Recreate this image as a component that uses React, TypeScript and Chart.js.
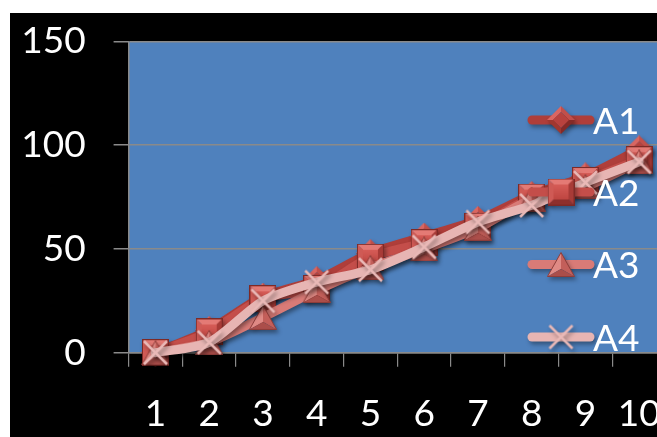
import { useEffect, useRef } from "react";
import { Chart, registerables } from "chart.js";

Chart.register(...registerables);

// ---- data ----
const categories = ["1", "2", "3", "4", "5", "6", "7", "8", "9", "10"];
const seriesNames = ["A1", "A2", "A3", "A4"];
const a1Values = [0, 11, 27, 35, 48, 56, 64, 76, 85, 98];
const a2Values = [0, 10, 26, 31, 46, 53, 61, 75, 83, 93];
const a3Values = [0, 5, 17, 30, 41, 50, 60, 74, 80, 92];
const a4Values = [0, 5, 25, 34, 40, 51, 63, 71, 82, 92];
const yMin = 0;
const yMax = 150;
const yStep = 50;

const FONT = "Lato";

function poly(ctx: CanvasRenderingContext2D, pts: number[][], fill: any) {
  ctx.beginPath();
  ctx.moveTo(pts[0][0], pts[0][1]);
  for (let i = 1; i < pts.length; i++) ctx.lineTo(pts[i][0], pts[i][1]);
  ctx.closePath();
  ctx.fillStyle = fill;
  ctx.fill();
}

function makeSquare(): HTMLCanvasElement {
  const s = 27;
  const b = 6;
  const c = document.createElement("canvas");
  c.width = s;
  c.height = s;
  const ctx = c.getContext("2d")!;
  poly(ctx, [[0, 0], [s, 0], [s - b, b], [b, b]], "#E47A75");
  poly(ctx, [[0, 0], [b, b], [b, s - b], [0, s]], "#CF5A55");
  poly(ctx, [[s, 0], [s, s], [s - b, s - b], [s - b, b]], "#A83B37");
  poly(ctx, [[0, s], [b, s - b], [s - b, s - b], [s, s]], "#8E2F2C");
  const g = ctx.createLinearGradient(0, b, 0, s - b);
  g.addColorStop(0, "#D65C57");
  g.addColorStop(1, "#BE4641");
  poly(ctx, [[b, b], [s - b, b], [s - b, s - b], [b, s - b]], g);
  ctx.strokeStyle = "#7E2A27";
  ctx.lineWidth = 1;
  ctx.strokeRect(0.5, 0.5, s - 1, s - 1);
  return c;
}

function makeDiamond(): HTMLCanvasElement {
  const s = 28;
  const h = s / 2;
  const b = 6;
  const c = document.createElement("canvas");
  c.width = s;
  c.height = s;
  const ctx = c.getContext("2d")!;
  const T = [h, 0], R = [s, h], B = [h, s], L = [0, h];
  const t = [h, b], r = [s - b, h], bb = [h, s - b], l = [b, h];
  poly(ctx, [L, T, t, l], "#DA6661");
  poly(ctx, [T, R, r, t], "#C24F4A");
  poly(ctx, [R, B, bb, r], "#862A27");
  poly(ctx, [B, L, l, bb], "#A0372F");
  poly(ctx, [t, r, bb, l], "#B8423E");
  return c;
}

function makeTriangle(): HTMLCanvasElement {
  const w = 28;
  const hgt = 25;
  const c = document.createElement("canvas");
  c.width = w;
  c.height = hgt;
  const ctx = c.getContext("2d")!;
  const A = [w / 2, 0.5], BL = [0.5, hgt - 0.5], BR = [w - 0.5, hgt - 0.5], C = [w / 2, hgt * 0.68];
  poly(ctx, [A, C, BL], "#E08A85");
  poly(ctx, [A, BR, C], "#C35F5A");
  poly(ctx, [BL, C, BR], "#AB4E4A");
  ctx.beginPath();
  ctx.moveTo(A[0], A[1]);
  ctx.lineTo(BR[0], BR[1]);
  ctx.lineTo(BL[0], BL[1]);
  ctx.closePath();
  ctx.strokeStyle = "#8E3D3A";
  ctx.lineWidth = 1;
  ctx.stroke();
  return c;
}

function makeCross(): HTMLCanvasElement {
  const s = 27;
  const c = document.createElement("canvas");
  c.width = s;
  c.height = s;
  const ctx = c.getContext("2d")!;
  ctx.strokeStyle = "#E9B9B7";
  ctx.lineWidth = 2.5;
  ctx.beginPath();
  ctx.moveTo(2, 2);
  ctx.lineTo(s - 2, s - 2);
  ctx.moveTo(s - 2, 2);
  ctx.lineTo(2, s - 2);
  ctx.stroke();
  return c;
}

const CANVAS_W = 679;
const CANVAS_H = 424;

export default function App() {
  const ref = useRef<HTMLCanvasElement>(null);

  useEffect(() => {
    if (!ref.current) return;
    const markers = [makeDiamond(), makeSquare(), makeTriangle(), makeCross()];
    const lineColors = ["#AF3E3A", "#C44E4A", "#D97B77", "#E7B5B3"];
    const values = [a1Values, a2Values, a3Values, a4Values];

    const bgPlugin = {
      id: "bg",
      beforeDraw(chart: any) {
        const { ctx, chartArea: a, width, height } = chart;
        ctx.save();
        ctx.fillStyle = "#000000";
        ctx.fillRect(0, 0, width, height);
        ctx.fillStyle = "#4F81BD";
        ctx.fillRect(a.left, a.top, a.right - a.left, a.bottom - a.top);
        ctx.restore();
      },
    };

    const shadowPlugin = {
      id: "shadow",
      beforeDatasetsDraw(chart: any) {
        const ctx = chart.ctx;
        ctx.save();
        ctx.shadowColor = "rgba(0,0,0,0.4)";
        ctx.shadowBlur = 4;
        ctx.shadowOffsetX = 2;
        ctx.shadowOffsetY = 3;
      },
      afterDatasetsDraw(chart: any) {
        chart.ctx.restore();
      },
    };

    const legendPlugin = {
      id: "customLegend",
      afterDraw(chart: any) {
        const ctx = chart.ctx;
        const rows = [107, 179, 251.5, 324];
        const x0 = 522;
        const x1 = 580;
        const mx = 551;
        const tx = 583;
        chart.data.datasets.forEach((ds: any, i: number) => {
          const y = rows[i];
          ctx.save();
          ctx.shadowColor = "rgba(0,0,0,0.35)";
          ctx.shadowBlur = 4;
          ctx.shadowOffsetX = 2;
          ctx.shadowOffsetY = 3;
          ctx.strokeStyle = ds.borderColor;
          ctx.lineWidth = 9;
          ctx.lineCap = "round";
          ctx.beginPath();
          ctx.moveTo(x0, y);
          ctx.lineTo(x1, y);
          ctx.stroke();
          const m = ds.pointStyle as HTMLCanvasElement;
          ctx.drawImage(m, mx - m.width / 2, y - m.height / 2);
          ctx.restore();
          ctx.save();
          ctx.fillStyle = "#FFFFFF";
          ctx.font = `37px ${FONT}`;
          ctx.textBaseline = "middle";
          ctx.textAlign = "left";
          ctx.fillText(ds.label, tx, y + 2);
          ctx.restore();
        });
      },
    };

    const chart = new Chart(ref.current, {
      type: "line",
      data: {
        labels: categories,
        datasets: seriesNames.map((name, i) => ({
          label: name,
          data: values[i],
          borderColor: lineColors[i],
          borderWidth: 9,
          borderCapStyle: "round",
          borderJoinStyle: "round",
          tension: 0.25,
          pointStyle: markers[i] as any,
          pointRadius: 14,
          pointHoverRadius: 14,
          fill: false,
          clip: false as any,
          order: 3 - i,
        })),
      },
      options: {
        responsive: false,
        maintainAspectRatio: false,
        animation: false,
        events: [],
        layout: { padding: { top: 28.5, left: 0, right: 0, bottom: 0 } },
        plugins: {
          legend: { display: false },
          tooltip: { enabled: false },
          title: { display: false },
        },
        scales: {
          x: {
            type: "category",
            offset: true,
            grid: {
              offset: true,
              drawOnChartArea: false,
              drawTicks: true,
              tickLength: 14,
              color: "#8A8A8A",
              lineWidth: 1.2,
            },
            border: { display: true, color: "#8A8A8A", width: 1.5 },
            ticks: {
              color: "#FFFFFF",
              font: { family: FONT, size: 37 },
              padding: 25,
              maxRotation: 0,
              autoSkip: false,
            },
            afterFit: (s: any) => {
              s.height = 84.3;
              s.paddingLeft = 0;
              s.paddingRight = 0;
              s.paddingTop = 0;
              s.paddingBottom = 0;
            },
          },
          y: {
            min: yMin,
            max: yMax,
            grid: {
              color: "#8A8A8A",
              lineWidth: 1.5,
              tickLength: 15,
            },
            border: { display: true, color: "#8A8A8A", width: 1.5 },
            ticks: {
              stepSize: yStep,
              color: "#FFFFFF",
              font: { family: FONT, size: 37 },
              padding: 28,
            },
            afterFit: (s: any) => {
              s.width = 118.6;
              s.paddingLeft = 0;
              s.paddingRight = 0;
              s.paddingTop = 0;
              s.paddingBottom = 0;
            },
          },
        },
      },
      plugins: [bgPlugin, shadowPlugin, legendPlugin],
    } as any);

    return () => chart.destroy();
  }, []);

  return (
    <div
      style={{
        position: "fixed",
        left: 10,
        top: 13,
        width: 647,
        height: 424,
        overflow: "hidden",
        background: "#000",
      }}
    >
      <canvas
        ref={ref}
        width={CANVAS_W}
        height={CANVAS_H}
        style={{ display: "block", width: CANVAS_W, height: CANVAS_H }}
      />
    </div>
  );
}
